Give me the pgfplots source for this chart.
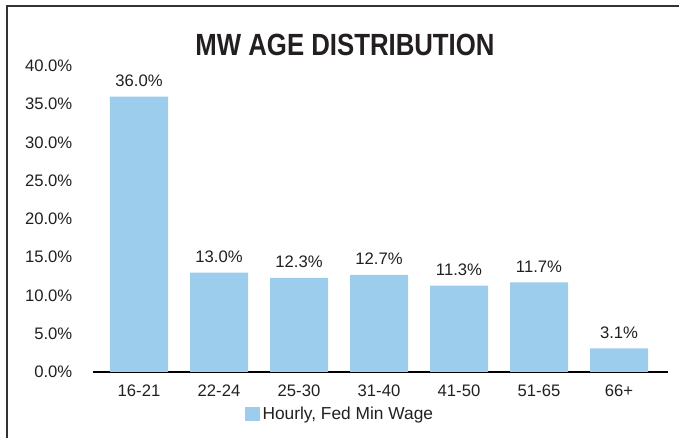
\documentclass[border=0pt]{standalone}
\usepackage{pgfplots}
\pgfplotsset{compat=1.18}
\usepackage{fontspec}
\setmainfont{Liberation Sans}
\newfontfamily\titlefont[FakeStretch=0.84]{Liberation Sans Bold}
\definecolor{barblue}{RGB}{157,205,237}
\definecolor{txt}{RGB}{35,31,32}
\begin{document}
\begin{tikzpicture}
\useasboundingbox (-69.75pt,-49.5pt) rectangle (439.5pt,279pt);
\draw[line width=1.3pt, color=black!80] (-64.5pt,-49.5pt) -- (-64.5pt,274.5pt) -- (439.5pt,274.5pt);
\begin{axis}[
  scale only axis,
  width=431.25pt, height=229.5pt,
  xmin=-0.575, xmax=6.6125,
  ymin=0, ymax=40,
  axis x line*=bottom,
  axis y line*=left,
  x axis line style={black, line width=0.8pt, -},
  y axis line style={draw=none},
  ytick={0,5,...,40},
  yticklabel={\pgfmathprintnumber[fixed, fixed zerofill, precision=1, assume math mode=true]{\tick}\%},
  xtick={0,...,6},
  xticklabels={16-21,22-24,25-30,31-40,41-50,51-65,66+},
  tick style={draw=none},
  ticklabel style={font=\fontsize{12.5pt}{14pt}\selectfont, color=txt},
  xticklabel style={yshift=-2pt},
  yticklabel style={xshift=-12pt},
  ybar, bar width=0.725, bar shift=0pt,
  nodes near coords={\pgfmathprintnumber[fixed, fixed zerofill, precision=1, assume math mode=true]{\pgfplotspointmeta}\%},
  nodes near coords style={font=\fontsize{12.5pt}{14pt}\selectfont, color=txt, yshift=4pt},
  legend style={at={(0.2643,-0.137)}, anchor=west, draw=none, fill=none, font=\fontsize{13pt}{15pt}\selectfont, text=txt, inner sep=0pt},
  legend image code/.code={\fill[barblue] (0pt,-5.5pt) rectangle (11pt,5.5pt);},
  clip=false,
]
\addplot[fill=barblue, draw=none] coordinates {(0,36.0) (1,13.0) (2,12.3) (3,12.7) (4,11.3) (5,11.7) (6,3.1)};
\addlegendentry{Hourly, Fed Min Wage}
\end{axis}
\node[font=\titlefont\fontsize{23pt}{26pt}\selectfont, color=txt] at (189pt,245.25pt) {MW AGE DISTRIBUTION};
\end{tikzpicture}
\end{document}
